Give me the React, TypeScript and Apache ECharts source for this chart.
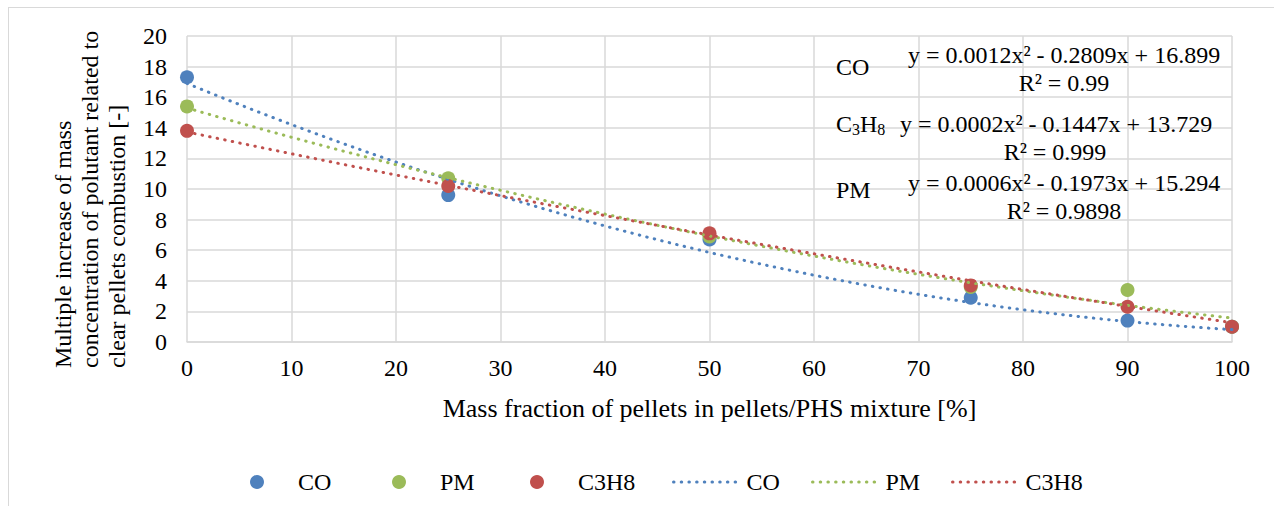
import React, { useEffect, useRef } from "react";
import * as echarts from "echarts";

const FONT = '"Liberation Serif", "Times New Roman", serif';

const xValues = [0, 25, 50, 75, 90, 100];
const coValues = [17.3, 9.6, 6.7, 2.9, 1.4, 1.0];
const pmValues = [15.4, 10.7, 6.9, 3.6, 3.4, 1.0];
const c3h8Values = [13.8, 10.2, 7.1, 3.7, 2.3, 1.0];

// polynomial trendline coefficients printed on the chart: [c0, c1, c2]
const coTrend = [16.899, -0.2809, 0.0012];
const pmTrend = [15.294, -0.1973, 0.0006];
const c3h8Trend = [13.729, -0.1447, 0.0002];

const seriesNames = ["CO", "PM", "C3H8"];
const colors = ["#4F81BD", "#9BBB59", "#C0504D"];

const eqTexts = [
  "y = 0.0012x\u00B2 - 0.2809x + 16.899",
  "y = 0.0002x\u00B2 - 0.1447x + 13.729",
  "y = 0.0006x\u00B2 - 0.1973x + 15.294",
];
const r2Texts = ["R\u00B2 = 0.99", "R\u00B2 = 0.999", "R\u00B2 = 0.9898"];

const xTitle = "Mass fraction of pellets in pellets/PHS mixture [%]";
const yTitleLines = [
  "Multiple increase of mass",
  "concentration of polutant related to",
  "clear pellets combustion [-]",
];

function trendPoints(c: number[]) {
  const pts: number[][] = [];
  for (let x = 0; x <= 100; x += 2) {
    pts.push([x, c[0] + c[1] * x + c[2] * x * x]);
  }
  return pts;
}

export default function App() {
  const ref = useRef<HTMLDivElement>(null);
  useEffect(() => {
    if (!ref.current) return;
    const chart = echarts.init(ref.current, undefined, { renderer: "svg" });
    const scatterData = [coValues, pmValues, c3h8Values];
    const trends = [coTrend, pmTrend, c3h8Trend];
    const dotted = { width: 3, type: [0.5, 7.2], cap: "round" };

    const scatterSeries = seriesNames.map((n, i) => ({
      name: n,
      type: "scatter",
      symbol: "circle",
      symbolSize: 14,
      itemStyle: { color: colors[i], opacity: 1 },
      data: xValues.map((x, k) => [x, scatterData[i][k]]),
      z: 2,
    }));
    const lineSeries = seriesNames.map((n, i) => ({
      name: n + "-trend",
      type: "line",
      symbol: "none",
      showSymbol: false,
      lineStyle: { color: colors[i], ...dotted },
      itemStyle: { color: colors[i] },
      data: trendPoints(trends[i]),
      z: 3,
    }));

    const legendText = { fontSize: 24, fontFamily: FONT, color: "#000" };
    const scatterLegendLeft = [236, 378, 516];
    const lineLegendLeft = [658, 797, 937];
    const legends = [
      ...seriesNames.map((n, i) => ({
        left: scatterLegendLeft[i],
        top: 457,
        itemWidth: 14,
        itemHeight: 14,
        textStyle: { ...legendText, padding: [0, 0, 0, 29] },
        data: [{ name: n, icon: "circle" }],
      })),
      ...seriesNames.map((n, i) => ({
        left: lineLegendLeft[i],
        top: 457,
        itemWidth: 68,
        itemHeight: 14,
        textStyle: { ...legendText },
        formatter: (name: string) => name.replace("-trend", ""),
        data: [
          {
            name: n + "-trend",
            itemStyle: { opacity: 0 },
            lineStyle: { color: colors[i], ...dotted },
          },
        ],
      })),
    ];

    const txt = (text: string, x: number, y: number, align = "center") => ({
      type: "text",
      x,
      y,
      style: {
        text,
        fontSize: 24,
        fontFamily: FONT,
        fill: "#000",
        align,
        verticalAlign: "middle",
      },
      z: 10,
    });

    chart.setOption({
      animation: false,
      backgroundColor: "#fff",
      grid: { left: 178, right: 42, top: 28, bottom: 164 },
      xAxis: {
        type: "value",
        min: 0,
        max: 100,
        interval: 10,
        name: xTitle,
        nameLocation: "middle",
        nameGap: 53,
        nameTextStyle: { fontSize: 26, fontFamily: FONT, color: "#000" },
        axisLine: { show: true, lineStyle: { color: "#d9d9d9", width: 1.5 } },
        axisTick: { show: false },
        axisLabel: { fontSize: 24, fontFamily: FONT, color: "#000", margin: 14 },
        splitLine: { show: true, lineStyle: { color: "#d9d9d9", width: 1.5 } },
      },
      yAxis: {
        type: "value",
        min: 0,
        max: 20,
        interval: 2,
        axisLine: { show: false },
        axisTick: { show: false },
        axisLabel: { fontSize: 24, fontFamily: FONT, color: "#000", margin: 20 },
        splitLine: { show: true, lineStyle: { color: "#d9d9d9", width: 1.5 } },
      },
      legend: legends,
      graphic: [
        {
          type: "text",
          x: 81,
          y: 360,
          rotation: Math.PI / 2,
          style: {
            text: yTitleLines.join("\n"),
            fontSize: 24,
            fontFamily: FONT,
            fill: "#000",
            align: "left",
            verticalAlign: "middle",
            lineHeight: 27,
          },
        },
        txt("CO", 827, 59, "left"),
        txt(eqTexts[0], 1055, 47),
        txt(r2Texts[0], 1055, 75),
        {
          type: "text",
          x: 827,
          y: 116,
          style: {
            text: "{n|C}{s|3}{n|H}{s|8}",
            fontFamily: FONT,
            fill: "#000",
            align: "left",
            verticalAlign: "middle",
            rich: {
              n: { fontSize: 24, fontFamily: FONT, fill: "#000", lineHeight: 26, verticalAlign: "middle" },
              s: { fontSize: 16, fontFamily: FONT, fill: "#000", lineHeight: 26, verticalAlign: "bottom" },
            },
          },
          z: 10,
        },
        txt(eqTexts[1], 1047, 116),
        txt(r2Texts[1], 1046, 144),
        txt("PM", 827, 182, "left"),
        txt(eqTexts[2], 1055, 175),
        txt(r2Texts[2], 1055, 203),
      ],
      series: [...scatterSeries, ...lineSeries],
    });
    return () => chart.dispose();
  }, []);

  return (
    <div
      style={{
        position: "absolute",
        left: 8,
        top: 7,
        width: 1266,
        height: 499,
        boxSizing: "border-box",
        borderLeft: "1px solid #d9d9d9",
        borderTop: "1px solid #d9d9d9",
        overflow: "hidden",
      }}
    >
      <div ref={ref} style={{ width: 1265, height: 498 }} />
    </div>
  );
}
